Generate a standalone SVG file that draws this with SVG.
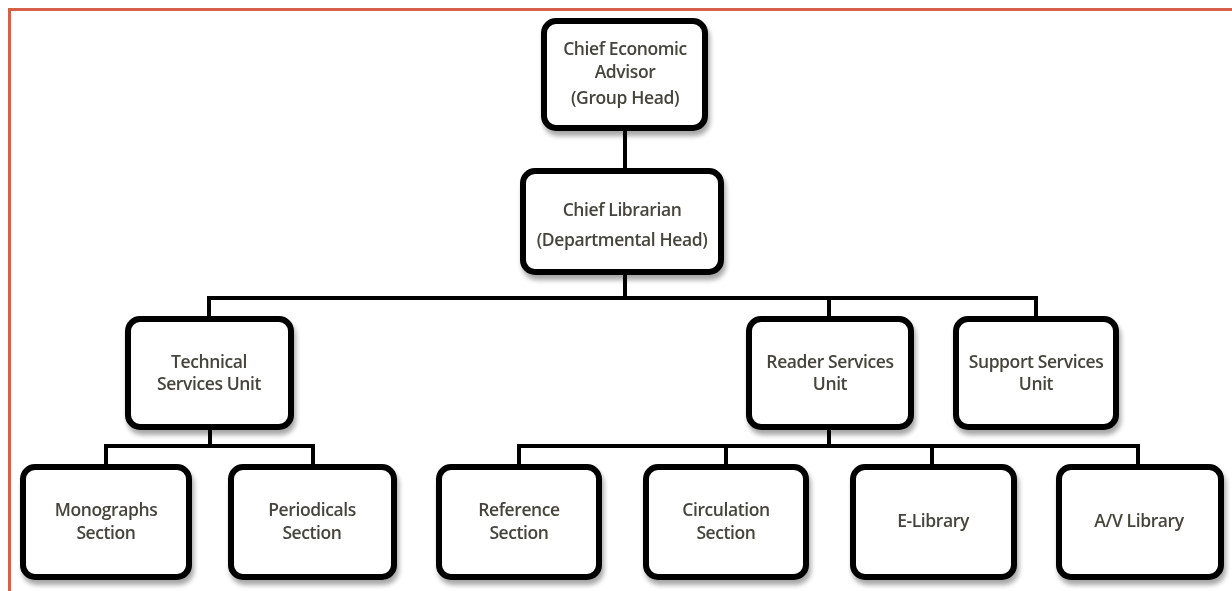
<svg xmlns="http://www.w3.org/2000/svg" width="1232" height="591" viewBox="0 0 1232 591">
<defs>
<filter id="sh" x="-10%" y="-10%" width="125%" height="130%">
<feGaussianBlur in="SourceAlpha" stdDeviation="2.5"/>
<feOffset dx="2" dy="5" result="b"/>
<feComponentTransfer><feFuncA type="linear" slope="0.35"/></feComponentTransfer>
<feMerge><feMergeNode/><feMergeNode in="SourceGraphic"/></feMerge>
</filter>
</defs>
<style>
.box{fill:#fff;stroke:#000;stroke-width:6;}
.t{font-family:"Open Sans","Liberation Sans",sans-serif;font-size:17.5px;font-weight:600;fill:#44443c;text-anchor:middle;letter-spacing:-0.4px;}
.c{stroke:#000;stroke-width:4;fill:none;}
.frame{stroke:#d6604a;stroke-width:3;fill:none;}
</style>
<rect width="1232" height="591" fill="#fff"/>
<path class="frame" d="M9.5 591 V9.5 H1232"/>
<g id="connectors">
<path class="c" d="M625 128 V168"/>
<path class="c" d="M625 272 V298"/>
<path class="c" d="M209 317 V298 H1036 V317"/>
<path class="c" d="M829 298 V317"/>
<path class="c" d="M210 427 V446"/>
<path class="c" d="M106 465 V446 H313 V465"/>
<path class="c" d="M829 427 V446"/>
<path class="c" d="M519 465 V446 H1138 V465"/>
<path class="c" d="M726 446 V465"/>
<path class="c" d="M932 446 V465"/>
</g>
<g id="n-cea" filter="url(#sh)"><rect class="box" x="544" y="21" width="161" height="107" rx="12"/>
<text class="t" x="625" y="55">Chief Economic</text><text class="t" x="625" y="78">Advisor</text><text class="t" x="625" y="104">(Group Head)</text></g>
<g id="n-cl" filter="url(#sh)"><rect class="box" x="523" y="171" width="198" height="101" rx="12"/>
<text class="t" x="622" y="216">Chief Librarian</text><text class="t" x="622" y="246">(Departmental Head)</text></g>
<g id="n-tsu" filter="url(#sh)"><rect class="box" x="128" y="319" width="163" height="108" rx="12"/>
<text class="t" x="209" y="368">Technical</text><text class="t" x="209" y="390">Services Unit</text></g>
<g id="n-rsu" filter="url(#sh)"><rect class="box" x="749" y="319" width="162" height="108" rx="12"/>
<text class="t" x="830" y="368">Reader Services</text><text class="t" x="830" y="390">Unit</text></g>
<g id="n-ssu" filter="url(#sh)"><rect class="box" x="956" y="319" width="160" height="108" rx="12"/>
<text class="t" x="1036" y="368">Support Services</text><text class="t" x="1036" y="390">Unit</text></g>
<g id="n-mon" filter="url(#sh)"><rect class="box" x="23" y="467" width="166" height="110" rx="12"/>
<text class="t" x="106" y="516">Monographs</text><text class="t" x="106" y="539">Section</text></g>
<g id="n-per" filter="url(#sh)"><rect class="box" x="231" y="467" width="163" height="110" rx="12"/>
<text class="t" x="312" y="516">Periodicals</text><text class="t" x="312" y="539">Section</text></g>
<g id="n-ref" filter="url(#sh)"><rect class="box" x="439" y="467" width="160" height="110" rx="12"/>
<text class="t" x="519" y="516">Reference</text><text class="t" x="519" y="539">Section</text></g>
<g id="n-cir" filter="url(#sh)"><rect class="box" x="646" y="467" width="160" height="110" rx="12"/>
<text class="t" x="726" y="516">Circulation</text><text class="t" x="726" y="539">Section</text></g>
<g id="n-elib" filter="url(#sh)"><rect class="box" x="853" y="467" width="161" height="110" rx="12"/>
<text class="t" x="933" y="527">E-Library</text></g>
<g id="n-av" filter="url(#sh)"><rect class="box" x="1059" y="467" width="162" height="110" rx="12"/>
<text class="t" x="1139" y="527">A/V Library</text></g>
</svg>
